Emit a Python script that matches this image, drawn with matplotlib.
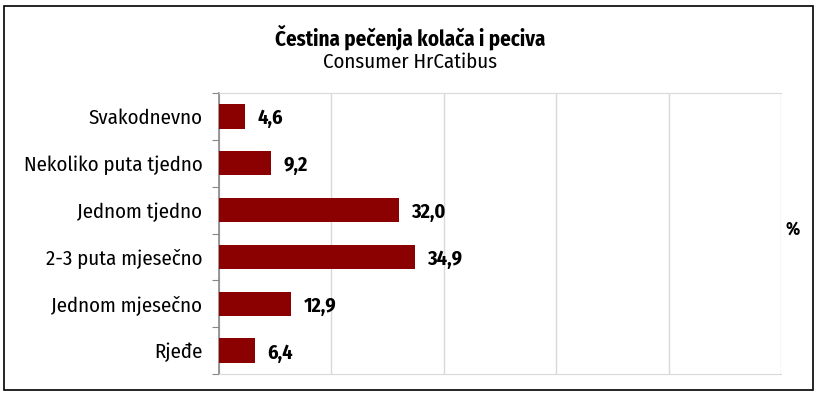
import matplotlib
matplotlib.use("Agg")
import matplotlib.pyplot as plt
from matplotlib.patches import Rectangle
from matplotlib import font_manager as fm

categories = ["Svakodnevno", "Nekoliko puta tjedno", "Jednom tjedno",
              "2-3 puta mjesečno", "Jednom mjesečno", "Rjeđe"]
values = [4.6, 9.2, 32.0, 34.9, 12.9, 6.4]
labels = ["4,6", "9,2", "32,0", "34,9", "12,9", "6,4"]

available = set(f.name for f in fm.fontManager.ttflist)
prefs = ['Fira Sans Condensed', 'Roboto Condensed', 'Asap Condensed',
         'Barlow Semi Condensed', 'Open Sans Condensed']
fam = [p for p in prefs if p in available][:1] + ['DejaVu Sans']
plt.rcParams['font.family'] = fam

W, H = 819, 396
fig = plt.figure(figsize=(W/100, H/100), dpi=100)
fig.patches.append(Rectangle((4/W, 6/H), 809/W, 384/H, transform=fig.transFigure,
                             fill=False, edgecolor='black', linewidth=1.2))

ax = fig.add_axes([219/W, 1-374/H, (781-219)/W, (374-93)/H])
y = list(range(len(categories)))
ax.barh(y, values, height=0.52, color='#8B0000', zorder=3)
ax.set_ylim(len(categories)-0.5, -0.5)
ax.set_xlim(0, 100)
ax.set_xticks([0, 20, 40, 60, 80, 100])
ax.tick_params(axis='x', length=0, labelbottom=False)
ax.grid(axis='x', color='#d9d9d9', linewidth=1, zorder=0)
ax.set_yticks([i - 0.5 for i in range(len(categories)+1)], minor=False)
ax.set_yticklabels([])
ax.set_yticks(y, minor=True)
ax.set_yticklabels(categories, minor=True, fontsize=15)
ax.tick_params(axis='y', which='major', length=5, color='#888888', direction='out')
ax.tick_params(axis='y', which='minor', length=0, pad=12)
for s in ['top', 'bottom', 'right']:
    ax.spines[s].set_color('#d9d9d9')
ax.spines['right'].set_visible(False)
ax.spines['left'].set_color('#888888')
ax.spines['left'].set_linewidth(1.2)

for yi, v, lab in zip(y, values, labels):
    ax.text(v + 2.2, yi + 0.05, lab, va='center', ha='left', fontsize=14.5, fontweight='bold')

fig.text(410/W, 1-37/H, "Čestina pečenja kolača i peciva", ha='center', va='center',
         fontsize=15, fontweight='bold')
fig.text(410/W, 1-62/H, "Consumer HrCatibus", ha='center', va='center', fontsize=15)
fig.text(793/W, 1-229/H, "%", ha='center', va='center', fontsize=13, fontweight='bold')

fig.savefig("out.png", dpi=100)
